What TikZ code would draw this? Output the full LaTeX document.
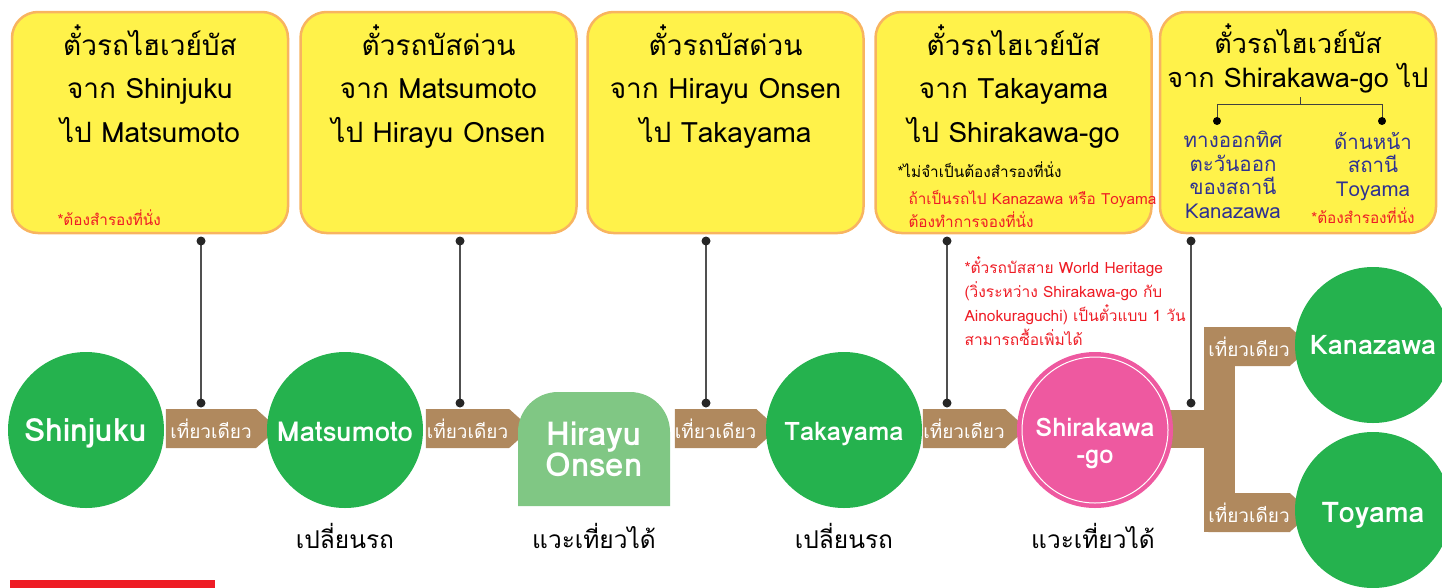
\documentclass[tikz,border=0pt]{standalone}
\usepackage{fontspec}
\setmainfont{Loma}[Script=Thai]
\usetikzlibrary{shapes.symbols}

\definecolor{boxyellow}{RGB}{255,242,74}
\definecolor{boxedge}{RGB}{248,180,96}
\definecolor{stgreen}{RGB}{37,178,78}
\definecolor{onsengreen}{RGB}{128,199,132}
\definecolor{heritagepink}{RGB}{238,89,160}
\definecolor{band}{RGB}{176,137,94}
\definecolor{notered}{RGB}{238,28,37}
\definecolor{noteblue}{RGB}{46,49,146}
\definecolor{pingray}{RGB}{80,80,80}

\newcommand{\lowered}[2]{\raisebox{-#1}[\height][\depth]{#2}}

\tikzset{
  ticketbox/.style={draw=boxedge, line width=2.5pt, fill=boxyellow, rounded corners=26pt,
    minimum width=276pt, minimum height=221pt, inner sep=0pt},
  boxtitle/.style={align=center, anchor=base, font=\fontsize{28}{43.5}\selectfont},
  station/.style={circle, fill=stgreen, minimum size=156pt, inner sep=0pt, text=white,
    font=\bfseries\fontsize{26}{26}\selectfont},
  ticket/.style={signal, signal to=east, signal pointer angle=84, fill=band, text=white,
    inner sep=0pt, minimum height=39pt, font=\fontsize{19}{19}\selectfont},
  pin/.style={draw=pingray, line width=1.3pt},
  redsmall/.style={text=notered, align=left, anchor=base west, font=\fontsize{15.3}{23}\selectfont},
  bluesmall/.style={text=noteblue, align=center, anchor=base, font=\fontsize{20.5}{23.5}\selectfont},
  remark/.style={anchor=base, font=\fontsize{24.5}{24.5}\selectfont}
}

\begin{document}
\begin{tikzpicture}[x=1pt, y=-1pt]
\useasboundingbox (0,0) rectangle (1442,587);

% ticket boxes
\node[ticketbox] (b1) at (150,122.5) {};
\node[ticketbox] (b2) at (438.5,122.5) {};
\node[ticketbox] (b3) at (725.5,122.5) {};
\node[ticketbox] (b4) at (1013.5,122.5) {};
\node[ticketbox] (b5) at (1298,122.5) {};

\node[boxtitle] (b1t) at (150,142) {ตั๋วรถไฮเวย์บัส\\จาก Shinjuku\\ไป Matsumoto};
\node[boxtitle] (b2t) at (438.5,142) {ตั๋วรถบัสด่วน\\จาก Matsumoto\\ไป Hirayu Onsen};
\node[boxtitle] (b3t) at (725.5,142) {ตั๋วรถบัสด่วน\\จาก Hirayu Onsen\\ไป Takayama};
\node[boxtitle] (b4t) at (1013.5,142) {ตั๋วรถไฮเวย์บัส\\จาก Takayama\\ไป Shirakawa-go};
\node[boxtitle, font=\fontsize{27}{34}\selectfont] (b5t) at (1298,87) {ตั๋วรถไฮเวย์บัส\\จาก Shirakawa-go ไป};

\node[redsmall] (b1n) at (54,225) {*ต้องสำรองที่นั่ง};
\node[redsmall, text=black] (b4n) at (894,177) {*ไม่จำเป็นต้องสำรองที่นั่ง};
\node[redsmall] (b4r) at (905,227) {ถ้าเป็นรถไป Kanazawa หรือ Toyama\\ต้องทำการจองที่นั่ง};

% exits at Shirakawa-go
\draw[pin, draw=black!75, line width=1pt] (1300,97) -- (1300,104) (1217,121) -- (1217,104) -- (1382,104) -- (1382,121);
\fill (1217,121) circle (4pt) (1382,121) circle (4pt);
\node[bluesmall] (ex1) at (1233,218) {ทางออกทิศ\\ตะวันออก\\ของสถานี\\Kanazawa};
\node[bluesmall] (ex2) at (1373,196) {ด้านหน้า\\สถานี\\Toyama};
\node[redsmall, anchor=base] (b5n) at (1363,223) {*ต้องสำรองที่นั่ง};

% one-way legs
\node[ticket, minimum width=112pt] (t1) at (211,428.5) {เที่ยวเดียว};
\node[ticket, minimum width=105pt] (t2) at (467.5,428.5) {เที่ยวเดียว};
\node[ticket, minimum width=101pt] (t3) at (715.5,428.5) {เที่ยวเดียว};
\node[ticket, minimum width=104pt] (t4) at (964,428.5) {เที่ยวเดียว};
\fill[band] (1160,410) rectangle (1220,448);
\fill[band] (1204,327) rectangle (1235,532);
\node[ticket, minimum width=90pt] (tk) at (1249,346.5) {เที่ยวเดียว};
\node[ticket, minimum width=90pt] (tt) at (1249,512.5) {เที่ยวเดียว};

% stations
\node[station, font=\bfseries\fontsize{32}{32}\selectfont] (shin) at (86,430) {\lowered{3pt}{Shinjuku}};
\node[station, font=\bfseries\fontsize{27.5}{27.5}\selectfont] (mats) at (345,430) {\lowered{2pt}{Matsumoto}};
\node[minimum width=152pt, minimum height=114pt, inner sep=0pt, text=white, align=center,
  font=\bfseries\fontsize{33}{31}\selectfont,
  path picture={\fill[onsengreen] (path picture bounding box.south west)
    [rounded corners=40pt] -- (path picture bounding box.north west)
    -- (path picture bounding box.north east) [sharp corners]
    -- (path picture bounding box.south east) -- cycle;}] (hira) at (594,449) {Hirayu\\Onsen};
\node[station, font=\bfseries\fontsize{25.5}{25.5}\selectfont] (taka) at (844,430) {\lowered{4pt}{Takayama}};
\node[station, fill=heritagepink, font=\bfseries\fontsize{25.5}{27}\selectfont,
  path picture={\draw[white, line width=1pt] (path picture bounding box.center) circle (73pt);}]
  (shira) at (1095,430) {\lowered{15pt}{\begin{tabular}{@{}c@{}}Shirakawa\\-go\end{tabular}}};
\node[station, font=\bfseries\fontsize{27}{27}\selectfont] (kana) at (1373,345) {Kanazawa};
\node[station, font=\bfseries\fontsize{28.5}{28.5}\selectfont] (toya) at (1373,510) {\lowered{5pt}{Toyama}};

% pins from ticket boxes
\coordinate (d1) at (201,241); \coordinate (e1) at (201,403);
\coordinate (d2) at (460,241); \coordinate (e2) at (460,403);
\coordinate (d3) at (706,241); \coordinate (e3) at (706,403);
\coordinate (d4) at (947,241); \coordinate (e4) at (947,403);
\coordinate (d5) at (1191,241); \coordinate (e5) at (1191,403);
\foreach \i in {1,...,5}{
  \draw[pin] (d\i) -- (e\i);
  \fill[black!85] (d\i) circle (4.5pt) (e\i) circle (4.5pt);
}

\node[redsmall, font=\fontsize{15.5}{24}\selectfont] (wh) at (961,345) {*ตั๋วรถบัสสาย World Heritage\\(วิ่งระหว่าง Shirakawa-go กับ\\Ainokuraguchi) เป็นตั๋วแบบ 1 วัน\\สามารถซื้อเพิ่มได้};

% stop notes
\node[remark] (r1) at (345,548) {เปลี่ยนรถ};
\node[remark] (r2) at (594,548) {แวะเที่ยวได้};
\node[remark] (r3) at (844,548) {เปลี่ยนรถ};
\node[remark] (r4) at (1093,548) {แวะเที่ยวได้};

\fill[notered] (10,580) rectangle (215,590);
\end{tikzpicture}
\end{document}
